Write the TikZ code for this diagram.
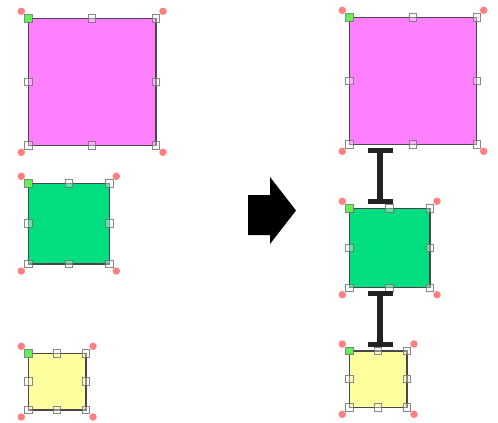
\documentclass[tikz,border=0pt]{standalone}
\usetikzlibrary{calc}
\definecolor{magentaF}{HTML}{FF80FF}
\definecolor{greenF}{HTML}{00DE80}
\definecolor{yellowF}{HTML}{FFFF9F}
\definecolor{dotR}{HTML}{FF8080}
\definecolor{hgreen}{HTML}{66EE55}
\definecolor{beam}{HTML}{222222}
\tikzset{
  shp/.style={draw=black!72, line width=1.3pt, inner sep=0pt, outer sep=0pt},
  hnd/.style={draw=black!55, fill=white, fill opacity=0.35, draw opacity=0.85, minimum size=7.5pt, inner sep=0pt, line width=0.9pt},
  hndg/.style={hnd, fill=hgreen, fill opacity=1},
  rdot/.style={circle, fill=dotR, minimum size=7.5pt, inner sep=0pt},
  ibar/.style={draw=beam, line width=5pt},
  istem/.style={draw=beam, line width=6pt},
  bigarrow/.style={fill=black}
}
% #1 name, #2 x1, #3 y1, #4 x2, #5 y2, #6 colour
\newcommand\selbox[6]{%
  \node[shp, fill=#6, anchor=north west, minimum width={(#4-#2)*1pt}, minimum height={(#5-#3)*1pt}] (#1) at (#2,#3) {};
  \foreach \a/\b in {north/n, north east/ne, west/w, east/e, south west/sw, south/s, south east/se}
    \node[hnd] (#1-\b) at (#1.\a) {};
  \node[hndg] (#1-nw) at (#1.north west) {};
  \node[rdot] (#1-r1) at ($(#1.north west)+(-7,-7)$) {};
  \node[rdot] (#1-r2) at ($(#1.north east)+(7,-7)$) {};
  \node[rdot] (#1-r3) at ($(#1.south west)+(-7,7)$) {};
  \node[rdot] (#1-r4) at ($(#1.south east)+(7,7)$) {};
}
\newcommand\ibeam[3]{% name, top point, bottom point
  \coordinate (#1t) at #2;
  \coordinate (#1b) at #3;
  \draw[istem] (#1t) -- (#1b);
  \draw[ibar] ($(#1t)+(-12.5,0)$) -- ($(#1t)+(12.5,0)$);
  \draw[ibar] ($(#1b)+(-12.5,0)$) -- ($(#1b)+(12.5,0)$);
}
\begin{document}
\begin{tikzpicture}[x=1pt,y=-1pt]
  \useasboundingbox (0,0) rectangle (498,423);
  % left column
  \selbox{m1}{28.3}{18.3}{156}{145.3}{magentaF}
  \selbox{g1}{28.3}{183.3}{109.3}{264}{greenF}
  \selbox{y1}{28.3}{353.3}{86}{410}{yellowF}
  % big arrow
  \fill[bigarrow] (248,195) -- (270,195) -- (270,177) -- (296,210.5) -- (270,244) -- (270,235) -- (248,235) -- cycle;
  % right column
  \selbox{m2}{349.3}{17.3}{476.7}{144.3}{magentaF}
  \selbox{g2}{349.3}{208.3}{430}{287.7}{greenF}
  \selbox{y2}{349.3}{351}{407}{407.3}{yellowF}
  \ibeam{ia}{(380,150.7)}{(380,201.7)}
  \ibeam{ib}{(380,293.3)}{(380,344.3)}
\end{tikzpicture}
\end{document}
